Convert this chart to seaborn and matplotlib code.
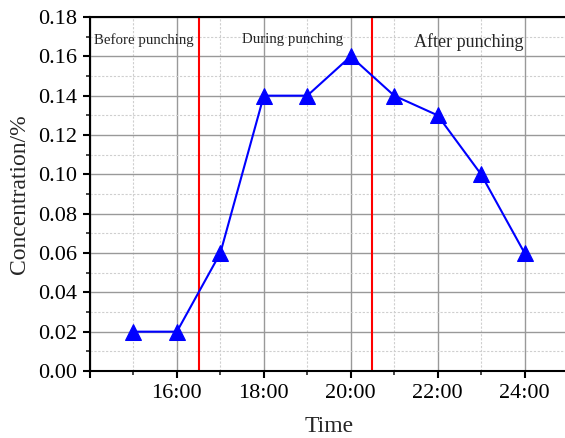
import matplotlib
matplotlib.use("Agg")
import matplotlib.pyplot as plt
import seaborn as sns
import pandas as pd
from matplotlib.ticker import MultipleLocator, FuncFormatter

hours = [15, 16, 17, 18, 19, 20, 21, 22, 23, 24]
concentration = [0.02, 0.02, 0.06, 0.14, 0.14, 0.16, 0.14, 0.13, 0.10, 0.06]
phase_labels = ["Before punching", "During punching", "After punching"]
phase_bounds = [16.5, 20.5]

sns.set_style("white")
plt.rcParams['font.family'] = ['Liberation Serif', 'DejaVu Serif']
plt.rcParams['mathtext.fontset'] = 'stix'

df = pd.DataFrame({"hour": hours, "conc": concentration})

fig = plt.figure(figsize=(5.65, 4.38), dpi=100)
ax = fig.add_axes([90/565, 1 - 371/438, (568-90)/565, (371-17)/438])

ax.set_xlim(14, 25)
ax.set_ylim(0, 0.18)
ax.xaxis.set_major_locator(MultipleLocator(2))
ax.xaxis.set_minor_locator(MultipleLocator(1))
ax.yaxis.set_major_locator(MultipleLocator(0.02))
ax.yaxis.set_minor_locator(MultipleLocator(0.01))
ax.xaxis.set_major_formatter(FuncFormatter(lambda v, p: "" if v < 15 else f"{int(v)}:00"))
ax.yaxis.set_major_formatter(FuncFormatter(lambda v, p: f"{v:.2f}"))

ax.grid(True, which='major', color='#999999', linewidth=1.0, linestyle='-')
ax.grid(True, which='minor', color='#cfcfcf', linewidth=0.8, linestyle=(0, (2, 1.5)))
ax.set_axisbelow(True)

for b in phase_bounds:
    ax.axvline(b, color='red', linewidth=1.5, zorder=2)

sns.lineplot(data=df, x="hour", y="conc", ax=ax, color='blue', marker='^',
             markersize=11, markeredgecolor='blue', linewidth=1.5, zorder=3)

ax.text(14.1, 0.1685, phase_labels[0], fontsize=10.7, ha='left', va='center')
ax.text(17.5, 0.1685, phase_labels[1], fontsize=10.7, ha='left', va='center')
ax.text(21.45, 0.1675, phase_labels[2], fontsize=13, ha='left', va='center')

for s in ['left', 'bottom', 'top', 'right']:
    ax.spines[s].set_color('black')
    ax.spines[s].set_linewidth(1.5)

ax.tick_params(axis='both', which='major', direction='out', length=5, width=1.5,
               labelsize=16, colors='black', bottom=True, left=True, pad=4)
ax.tick_params(axis='both', which='minor', direction='out', length=3, width=1.2,
               bottom=True, left=True)

ax.set_xlabel("Time", fontsize=17, labelpad=10)
ax.set_ylabel("Concentration/%", fontsize=17, labelpad=6)

fig.savefig("out.png", dpi=100)
